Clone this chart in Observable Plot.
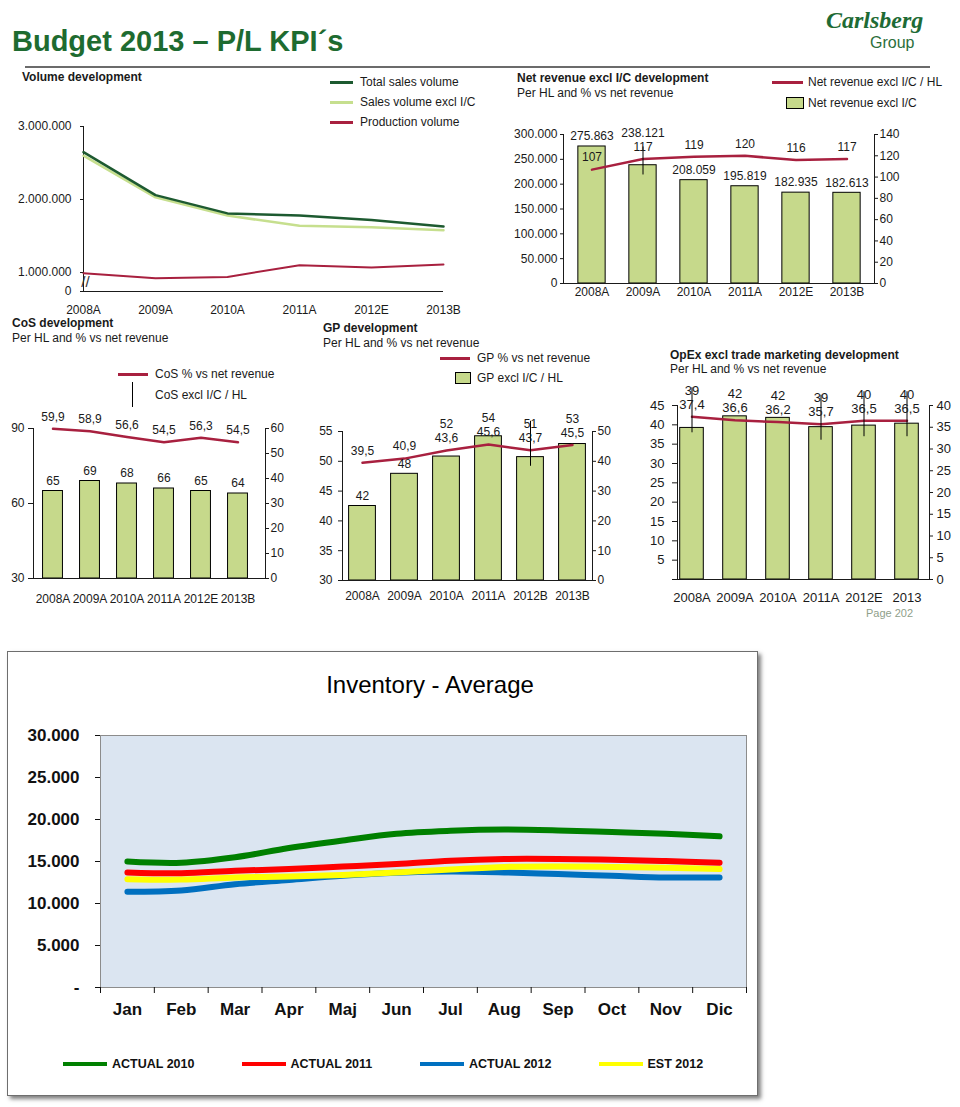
<!DOCTYPE html>
<html><head><meta charset="utf-8">
<script src="https://cdn.jsdelivr.net/npm/d3@7"></script>
<script src="https://cdn.jsdelivr.net/npm/@observablehq/plot@0.6"></script>
<style>
body{margin:0;background:#fff;}
#page{position:relative;width:960px;height:1107px;overflow:hidden;background:#fff;font-family:"Liberation Sans",Arial,sans-serif;color:#1a1a1a;}
.t{position:absolute;white-space:nowrap;line-height:1;}
.abs{position:absolute;box-sizing:border-box;}
</style></head><body><div id="page"></div>
<script>
// ---------------- DATA ----------------
const years = ["2008A","2009A","2010A","2011A","2012E","2013B"];
const gpYears = ["2008A","2009A","2010A","2011A","2012B","2013B"];
const opexYears = ["2008A","2009A","2010A","2011A","2012E","2013"];

// Volume development (HL)
const totalSales = [2650000, 2060000, 1810000, 1780000, 1720000, 1630000];
const salesExclIC = [2600000, 2030000, 1780000, 1640000, 1620000, 1580000];
const production = [990000, 920000, 940000, 1100000, 1070000, 1110000];
const volTicks = [1000000, 2000000, 3000000];

// Net revenue excl I/C
const netRevenue = [275863, 238121, 208059, 195819, 182935, 182613];
const netRevenuePerHL = [107, 117, 119, 120, 116, 117];

// CoS
const cosPerHL = [65, 69, 68, 66, 65, 64];
const cosPct = [59.9, 58.9, 56.6, 54.5, 56.3, 54.5];

// GP
const gpPerHL = [42.5, 47.9, 50.8, 54.2, 50.7, 52.9];
const gpPerHLLabels = ["42", "48", "52", "54", "51", "53"];
const gpPct = [39.5, 40.9, 43.6, 45.6, 43.7, 45.5];

// OpEx excl trade marketing
const opexPerHL = [39.2, 42.2, 41.8, 39.4, 39.8, 40.3];
const opexPct = [37.4, 36.6, 36.2, 35.7, 36.5, 36.5];

// Inventory - Average
const months = ["Jan","Feb","Mar","Apr","Maj","Jun","Jul","Aug","Sep","Oct","Nov","Dic"];
const actual2010 = [15000, 14850, 15500, 16600, 17500, 18300, 18650, 18800, 18700, 18500, 18300, 18000];
const actual2011 = [13700, 13600, 13900, 14100, 14400, 14700, 15100, 15300, 15300, 15200, 15050, 14850];
const actual2012 = [11400, 11550, 12300, 12800, 13300, 13650, 13800, 13700, 13500, 13300, 13100, 13100];
const est2012 = [12900, 12850, 13100, 13200, 13400, 13700, 14050, 14350, 14400, 14350, 14250, 14100];
const invNames = ["ACTUAL 2010", "ACTUAL 2011", "ACTUAL 2012", "EST 2012"];
const invTicks = [0, 5000, 10000, 15000, 20000, 25000, 30000];

// ---------------- STYLE ----------------
const crimson = "#a8203f";
const darkGreen = "#1d5a30";
const lightGreen = "#c6df8e";
const barFill = "#c6d98b";
const brandGreen = "#1e6b30";
const invColors = {"ACTUAL 2010": "#008000", "ACTUAL 2011": "#ff0000", "ACTUAL 2012": "#0070c0", "EST 2012": "#ffff00"};

const page = document.getElementById("page");
const loc = d3.formatLocale({decimal: ",", thousands: ".", grouping: [3], currency: ["", ""]});
const fmtInt = loc.format(",d");
const fmt1 = loc.format(".1f");
const base = {background: "transparent", overflow: "visible", fontFamily: "'Liberation Sans', Arial, sans-serif", fontSize: "12px", color: "#1a1a1a"};

function txt(s, x, cy, o = {}) {
  const d = document.createElement("div");
  d.className = "t";
  d.textContent = s;
  d.style.left = x + "px";
  d.style.top = cy + "px";
  d.style.fontSize = (o.size || 12) + "px";
  d.style.fontWeight = o.weight || "normal";
  d.style.color = o.color || "#1a1a1a";
  if (o.family) d.style.fontFamily = o.family;
  if (o.fstyle) d.style.fontStyle = o.fstyle;
  const tx = o.anchor === "middle" ? "-50%" : o.anchor === "end" ? "-100%" : "0";
  d.style.transform = `translate(${tx}, -50%)`;
  page.appendChild(d);
  return d;
}
function box(x, y, w, h, css) {
  const d = document.createElement("div");
  d.className = "abs";
  Object.assign(d.style, {left: x + "px", top: y + "px", width: w + "px", height: h + "px"}, css);
  page.appendChild(d);
  return d;
}
function place(el, x, y) {
  el.style.position = "absolute";
  el.style.left = x + "px";
  el.style.top = y + "px";
  page.appendChild(el);
}

// ---------------- HEADER ----------------
txt("Budget 2013 \u2013 P/L KPI\u00b4s", 12, 41, {size: 29, weight: "bold", color: brandGreen});
box(25, 66, 905, 1.5, {background: "#6b6b6b"});
txt("Carlsberg", 826, 20, {size: 24, weight: "bold", fstyle: "italic", family: "'Liberation Serif', serif", color: "#1e6b35"});
txt("Group", 870, 43, {size: 16, color: "#2c6e3c"});

// ---------------- VOLUME ----------------
txt("Volume development", 22, 77, {weight: "bold"});
[["Total sales volume", darkGreen, 82], ["Sales volume excl I/C", lightGreen, 102], ["Production volume", crimson, 122]].forEach(([l, c, y]) => {
  box(330, y - 1.5, 23, 3, {background: c});
  txt(l, 360, y);
});
{
  const volLow = 740000;
  const rows = years.map((c, i) => ({c, total: totalSales[i], excl: salesExclIC[i], prod: production[i]}));
  const p = Plot.plot({
    width: 470, height: 215,
    marginLeft: 83, marginRight: 27, marginTop: 16, marginBottom: 34,
    style: base,
    x: {type: "point", domain: years, padding: 0, label: null},
    y: {domain: [volLow, 3000000], label: null},
    marks: [
      Plot.ruleY([volLow], {stroke: "#1a1a1a"}),
      Plot.frame({anchor: "left", stroke: "#1a1a1a"}),
      Plot.axisY({ticks: [volLow, ...volTicks], tickFormat: d => d === volLow ? "0" : fmtInt(d), tickSize: 3, tickPadding: 9, label: null}),
      Plot.axisX({tickSize: 0, tickPadding: 14, label: null}),
      Plot.line(rows, {x: "c", y: "excl", stroke: lightGreen, strokeWidth: 2.5}),
      Plot.line(rows, {x: "c", y: "total", stroke: darkGreen, strokeWidth: 2.5}),
      Plot.line(rows, {x: "c", y: "prod", stroke: crimson, strokeWidth: 2}),
      Plot.text(["//"], {x: () => years[0], y: () => (volLow + volTicks[0]) / 2, text: d => d, fontSize: 15, dx: 2, fill: "#333"})
    ]
  });
  place(p, 0, 110);
}

// ---------------- DUAL-AXIS CHART ----------------
function dualChart(cfg) {
  const {svg, frame, cats, bars, barText, line, lineText, L, R, c0, step, barWidth, labelPad, markers = [], fontSize = 12, markerTop = 17} = cfg;
  const yPx = d3.scaleLinear(L.domain, [frame.y1, frame.y0]);
  const rPx = d3.scaleLinear(R.domain, [frame.y1, frame.y0]);
  const toL = v => yPx.invert(rPx(v));
  const rows = cats.map((c, i) => {
    const barTop = yPx(bars[i]);
    const linePx = rPx(line[i]);
    const lineLab = linePx - 12;
    let barLab = barTop - 10;
    if (Math.abs(barLab - lineLab) < 14) barLab = lineLab - 14;
    return {
      c, bar: bars[i], line: toL(line[i]), barText: barText[i], lineText: lineText[i],
      barLabY: yPx.invert(barLab), lineLabY: yPx.invert(lineLab),
      mk1: yPx.invert(lineLab - markerTop), mk2: yPx.invert(linePx + 16)
    };
  });
  const lo = L.domain[0];
  const inset = (step - barWidth) / 2;
  const p = Plot.plot({
    width: svg.w, height: svg.h,
    marginLeft: frame.x0 - svg.x, marginRight: svg.x + svg.w - frame.x1,
    marginTop: frame.y0 - svg.y, marginBottom: svg.y + svg.h - frame.y1,
    style: {...base, fontSize: fontSize + "px"},
    x: {type: "band", domain: cats, range: [c0 - step / 2 - svg.x, c0 + step * (cats.length - 0.5) - svg.x], padding: 0, label: null},
    y: {domain: L.domain, label: null},
    marks: [
      Plot.barY(rows, {x: "c", y1: () => lo, y2: "bar", fill: barFill, stroke: "#000", strokeWidth: 1, insetLeft: inset, insetRight: inset}),
      Plot.ruleY([lo], {stroke: "#1a1a1a"}),
      Plot.frame({anchor: "left", stroke: "#1a1a1a"}),
      Plot.frame({anchor: "right", stroke: "#1a1a1a"}),
      Plot.axisY({ticks: L.ticks, tickFormat: L.format, tickSize: L.tickSize, tickPadding: L.tickPadding, label: null}),
      Plot.axisY({anchor: "right", ticks: R.ticks.map(toL), tickFormat: d => R.format(Math.round(rPx.invert(yPx(d)))), tickSize: 3, tickPadding: R.tickPadding ?? 2, label: null}),
      Plot.axisX({tickSize: 0, tickPadding: labelPad, label: null}),
      Plot.line(rows, {x: "c", y: "line", stroke: crimson, strokeWidth: 2.5}),
      Plot.ruleX(rows.filter(r => markers.includes(r.c)), {x: "c", y1: "mk1", y2: "mk2", stroke: "#000", strokeWidth: 1}),
      Plot.text(rows, {x: "c", y: "barLabY", text: "barText", fontSize}),
      Plot.text(rows, {x: "c", y: "lineLabY", text: "lineText", fontSize})
    ]
  });
  place(p, svg.x, svg.y);
}

// ---------------- NET REVENUE ----------------
txt("Net revenue excl I/C development", 517, 78, {weight: "bold"});
txt("Per HL and % vs net revenue", 517, 93);
box(772, 80.5, 31, 3, {background: crimson});
txt("Net revenue excl I/C / HL", 808, 82);
box(786, 97, 18, 12, {background: barFill, border: "1px solid #000"});
txt("Net revenue excl I/C", 808, 103);
dualChart({
  svg: {x: 495, y: 118, w: 420, h: 185},
  frame: {x0: 563, x1: 874, y0: 134, y1: 283},
  cats: years, bars: netRevenue, barText: netRevenue.map(fmtInt),
  line: netRevenuePerHL, lineText: netRevenuePerHL.map(String),
  L: {domain: [0, 300000], ticks: d3.range(0, 300001, 50000), format: fmtInt, tickSize: 3, tickPadding: 3},
  R: {domain: [0, 140], ticks: d3.range(0, 141, 20), format: String},
  c0: 590, step: 51.7, barWidth: 28, labelPad: 4, markers: ["2009A"], markerTop: 0
});

// ---------------- CoS ----------------
txt("CoS development", 12, 323, {weight: "bold"});
txt("Per HL and % vs net revenue", 12, 338);
box(118, 372.5, 30, 3, {background: crimson});
txt("CoS % vs net revenue", 155, 374);
box(132, 382, 1.2, 25, {background: "#000"});
txt("CoS excl I/C / HL", 155, 395);
dualChart({
  svg: {x: 0, y: 405, w: 300, h: 205},
  frame: {x0: 33, x1: 265, y0: 428, y1: 578},
  cats: years, bars: cosPerHL, barText: cosPerHL.map(String),
  line: cosPct, lineText: cosPct.map(fmt1),
  L: {domain: [30, 90], ticks: [30, 60, 90], format: String, tickSize: 5, tickPadding: 4},
  R: {domain: [0, 60], ticks: d3.range(0, 61, 10), format: String},
  c0: 52.7, step: 37.1, barWidth: 20, labelPad: 16
});

// ---------------- GP ----------------
txt("GP development", 323, 328, {weight: "bold"});
txt("Per HL and % vs net revenue", 323, 343);
box(440, 356.5, 30, 3, {background: crimson});
txt("GP % vs net revenue", 477, 358);
box(455, 372, 16, 12, {background: barFill, border: "1px solid #000"});
txt("GP excl I/C / HL", 477, 378);
dualChart({
  svg: {x: 305, y: 400, w: 325, h: 210},
  frame: {x0: 342, x1: 592, y0: 431, y1: 580},
  cats: gpYears, bars: gpPerHL, barText: gpPerHLLabels,
  line: gpPct, lineText: gpPct.map(fmt1),
  L: {domain: [30, 55], ticks: d3.range(30, 56, 5), format: String, tickSize: 4, tickPadding: 6},
  R: {domain: [0, 50], ticks: d3.range(0, 51, 10), format: String},
  c0: 361, step: 42.2, barWidth: 27, labelPad: 11, markers: ["2012B"]
});

// ---------------- OpEx ----------------
txt("OpEx excl trade marketing development", 670, 355, {weight: "bold"});
txt("Per HL and % vs net revenue", 670, 369);
dualChart({
  svg: {x: 640, y: 375, w: 320, h: 235},
  frame: {x0: 677, x1: 929, y0: 405, y1: 579},
  cats: opexYears, bars: opexPerHL, barText: opexPerHL.map(v => String(Math.round(v))),
  line: opexPct, lineText: opexPct.map(fmt1),
  L: {domain: [0, 45], ticks: d3.range(0, 46, 5), format: d => d === 0 ? "" : String(d), tickSize: 5, tickPadding: 8},
  R: {domain: [0, 40], ticks: d3.range(0, 41, 5), format: String, tickPadding: 4},
  c0: 690, step: 43.4, barWidth: 24, labelPad: 13, markers: ["2008A", "2011A", "2012E", "2013"], fontSize: 13
});
txt("Page 202", 866, 613, {size: 11, color: "#8fa08a"});

// ---------------- INVENTORY ----------------
box(7, 651, 751, 445, {background: "#fff", border: "1px solid #6e6e6e", boxShadow: "3px 3px 4px rgba(0,0,0,0.5)"});
txt("Inventory - Average", 430, 685, {size: 24, anchor: "middle", color: "#000"});
{
  const seriesVals = {"ACTUAL 2010": actual2010, "ACTUAL 2011": actual2011, "ACTUAL 2012": actual2012, "EST 2012": est2012};
  const drawOrder = ["ACTUAL 2010", "ACTUAL 2012", "EST 2012", "ACTUAL 2011"];
  const rowsOf = name => months.map((m, i) => ({i, v: seriesVals[name][i]}));
  const p = Plot.plot({
    width: 748, height: 300,
    marginLeft: 92, marginRight: 10, marginTop: 15, marginBottom: 33,
    style: {...base, fontSize: "17px", fontWeight: "bold", color: "#111"},
    x: {domain: [-0.5, months.length - 0.5], label: null},
    y: {domain: [0, 30000], label: null},
    marks: [
      Plot.frame({fill: "#dbe5f1", stroke: "#8c8c8c"}),
      Plot.axisY({ticks: invTicks, tickFormat: d => d === 0 ? "-" : fmtInt(d), tickSize: 5, tickPadding: 16, label: null}),
      Plot.axisX({ticks: d3.range(months.length + 1).map(i => i - 0.5), tickFormat: () => "", tickSize: 6, label: null}),
      Plot.axisX({ticks: d3.range(months.length), tickFormat: i => months[i], tickSize: 0, tickPadding: 15, label: null}),
      ...drawOrder.map(name => Plot.line(rowsOf(name), {x: "i", y: "v", stroke: invColors[name], strokeWidth: 6, curve: "catmull-rom", strokeLinecap: "round"}))
    ]
  });
  place(p, 8, 720);
}
invNames.forEach((name, k) => {
  const x = 63 + k * 178.5;
  box(x, 1062, 44, 4, {background: invColors[name]});
  txt(name, x + 49, 1064, {size: 12.5, weight: "bold", color: "#111"});
});
</script></body></html>
